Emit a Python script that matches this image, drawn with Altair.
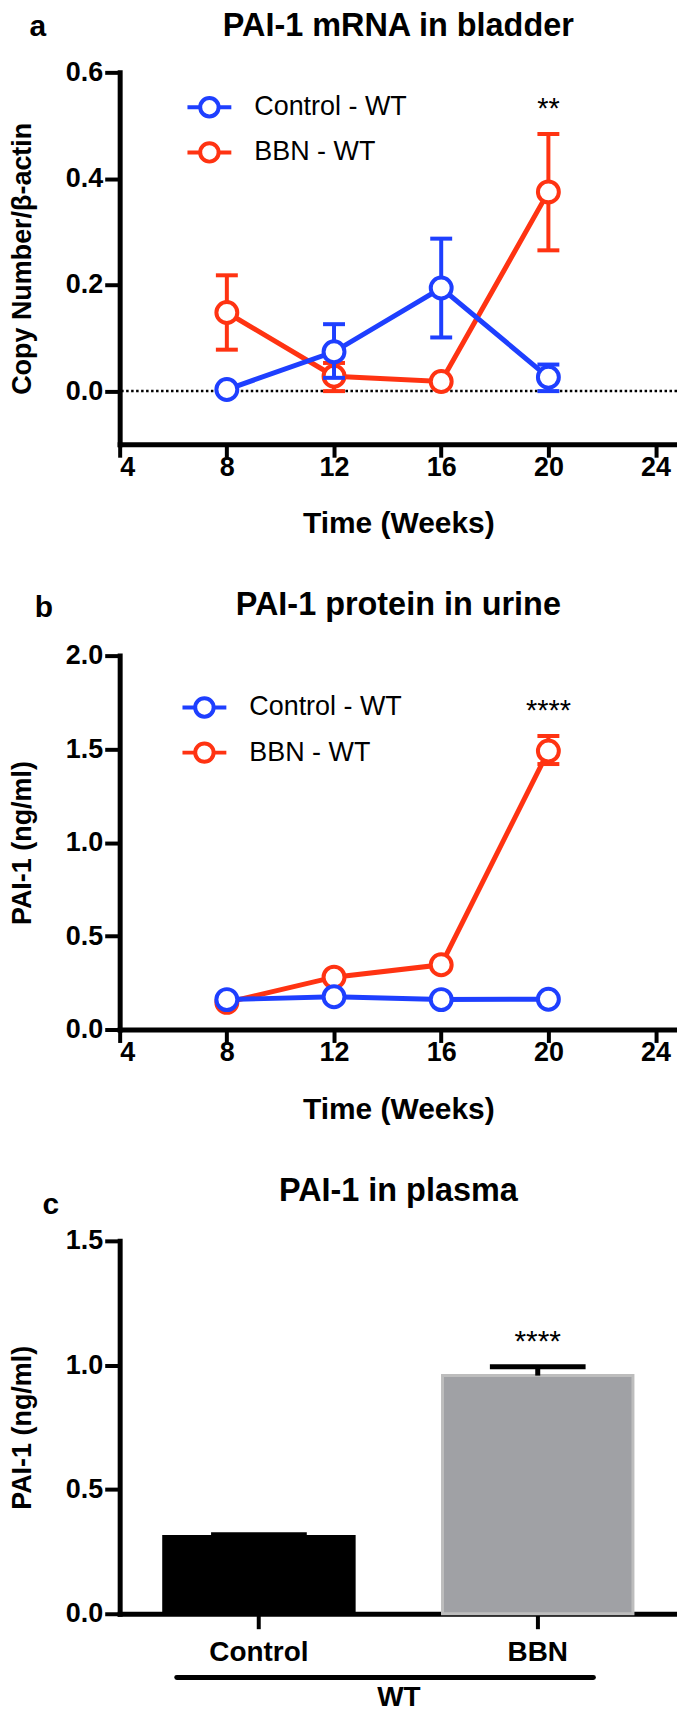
import altair as alt
import pandas as pd

F = "Liberation Sans"
BLUE = "#1E3FFF"
RED = "#FF3312"

# ---------------- data ----------------
series_names = ["Control - WT", "BBN - WT"]
weeks = [8, 12, 16, 20]
x_ticks = [4, 8, 12, 16, 20, 24]
panel_letters = ["a", "b", "c"]
panel_titles = ["PAI-1 mRNA in bladder", "PAI-1 protein in urine", "PAI-1 in plasma"]

# panel a: PAI-1 mRNA in bladder
a_ctrl_mean = [0.003, 0.074, 0.194, 0.026]
a_ctrl_lo = [0.003, 0.025, 0.101, 0.000]
a_ctrl_hi = [0.003, 0.126, 0.287, 0.050]
a_bbn_mean = [0.148, 0.028, 0.018, 0.375]
a_bbn_lo = [0.078, 0.000, 0.018, 0.265]
a_bbn_hi = [0.218, 0.053, 0.018, 0.484]
a_y_ticks = [0.0, 0.2, 0.4, 0.6]
a_sig_text = ["**"]
a_sig_week = [20]
a_sig_y = [0.544]

# panel b: PAI-1 protein in urine
b_ctrl_mean = [0.160, 0.175, 0.160, 0.162]
b_ctrl_lo = [0.160, 0.175, 0.160, 0.162]
b_ctrl_hi = [0.160, 0.175, 0.160, 0.162]
b_bbn_mean = [0.145, 0.280, 0.346, 1.490]
b_bbn_lo = [0.145, 0.280, 0.346, 1.420]
b_bbn_hi = [0.145, 0.280, 0.346, 1.570]
b_y_ticks = [0.0, 0.5, 1.0, 1.5, 2.0]
b_sig_text = ["****"]
b_sig_week = [20]
b_sig_y = [1.74]

# panel c: PAI-1 in plasma
c_groups = ["Control", "BBN"]
c_mean = [0.311, 0.958]
c_hi = [0.318, 0.994]
c_y_ticks = [0.0, 0.5, 1.0, 1.5]
c_sig_text = ["****"]
c_sig_group = ["BBN"]
c_sig_y = [1.12]
c_bracket_label = "WT"
c_bracket_y = [-0.256]
c_bracket_from = [0.205]   # in category-step units (Control centre = 0.5)
c_bracket_to = [1.70]      # (BBN centre = 1.5)

W = 559
X_MAX = 24.8
HA, HB, HC = 373, 375, 374

LEG_PATH = ("M-1,0L-0.42,0M0.42,0L1,0"
            "M0.42,0A0.42,0.42,0,1,1,-0.42,0A0.42,0.42,0,1,1,0.42,0")

YT_PAD = 29


def xenc(field="week"):
    return alt.X(
        f"{field}:Q",
        scale=alt.Scale(domain=[4, X_MAX], nice=False, zero=False),
        axis=alt.Axis(values=x_ticks, format="d", title="Time (Weeks)",
                      labelFontSize=27, titleFontSize=30, tickSize=13,
                      labelPadding=-3, titlePadding=29),
    )


def yenc(field, domain, ticks, title):
    return alt.Y(
        f"{field}:Q",
        scale=alt.Scale(domain=domain, nice=False, zero=False),
        axis=alt.Axis(values=ticks, format=".1f", title=title,
                      labelFontSize=27, titleFontSize=27, tickSize=15,
                      labelPadding=2, titlePadding=YT_PAD),
    )


def heading_layers(title, ty, letter, lpos):
    t = alt.Chart(pd.DataFrame({"t": [title]})).mark_text(
        font=F, fontSize=32.5, fontWeight="bold", color="black",
        align="center", baseline="top").encode(
        x=alt.value(W / 2), y=alt.value(ty), text="t:N")
    l = alt.Chart(pd.DataFrame({"letter": [letter]})).mark_text(
        font=F, fontSize=30, fontWeight="bold", color="black").encode(
        x=alt.value(lpos[0]), y=alt.value(lpos[1]), text="letter:N")
    return [t, l]


def series_layers(df, color, ydom, yticks, ytitle, legend=None):
    base = alt.Chart(df)
    Y = lambda f: yenc(f, ydom, yticks, ytitle)
    line = base.mark_line(color=color, strokeWidth=5).encode(x=xenc(), y=Y("mean"))
    err = base.mark_rule(color=color, strokeWidth=4).encode(
        x=xenc(), y=Y("lo"), y2="hi:Q")
    caps = base.transform_fold(["lo", "hi"], as_=["k", "v"]).mark_tick(
        color=color, orient="horizontal", size=22, thickness=4, opacity=1
    ).encode(x=xenc(), y=Y("v"))
    pts = base.mark_point(shape="circle", filled=True, fill="white", stroke=color,
                          strokeWidth=4, size=440, opacity=1).encode(x=xenc(), y=Y("mean"))
    if legend is not None:
        pts = pts.encode(stroke=alt.Stroke(
            "series:N", scale=alt.Scale(domain=series_names, range=[BLUE, RED]),
            legend=legend))
    return [line, err, caps, pts]


def make_legend(lx, ly):
    return alt.Legend(
        title=None, orient="none", legendX=lx, legendY=ly, direction="vertical",
        symbolType=LEG_PATH, symbolSize=1936, symbolStrokeWidth=4,
        symbolFillColor="white", symbolOpacity=1,
        labelFont=F, labelFontSize=27, labelColor="black", labelFontWeight="normal",
        labelOffset=21, rowPadding=3.3, padding=0,
    )


def line_panel(i, ty, lpos, ctrl, bbn, ydom, yticks, ytitle, sig, leg, h, dotted):
    cdf = pd.DataFrame({"week": weeks, "mean": ctrl[0], "lo": ctrl[1], "hi": ctrl[2],
                        "series": series_names[0]})
    bdf = pd.DataFrame({"week": weeks, "mean": bbn[0], "lo": bbn[1], "hi": bbn[2],
                        "series": series_names[1]})
    Y = lambda f: yenc(f, ydom, yticks, ytitle)
    layers = []
    if dotted:
        layers.append(alt.Chart(pd.DataFrame({"z": [0.0]})).mark_rule(
            color="black", strokeWidth=2.5, strokeDash=[2.5, 2.5]).encode(y=Y("z")))
    layers += series_layers(bdf, RED, ydom, yticks, ytitle)
    layers += series_layers(cdf, BLUE, ydom, yticks, ytitle, legend=make_legend(*leg))
    sdf = pd.DataFrame({"week": sig[1], "y": sig[2], "t": sig[0]})
    layers.append(alt.Chart(sdf).mark_text(font=F, fontSize=29, color="black", dy=7).encode(
        x=xenc(), y=Y("y"), text="t:N"))
    layers += heading_layers(panel_titles[i], ty, panel_letters[i], lpos)
    return alt.layer(*layers).properties(width=W, height=h)


panel_a = line_panel(
    0, -62, (-82, -45),
    (a_ctrl_mean, a_ctrl_lo, a_ctrl_hi), (a_bbn_mean, a_bbn_lo, a_bbn_hi),
    [-0.1, 0.6], a_y_ticks, "Copy Number/β-actin",
    (a_sig_text, a_sig_week, a_sig_y), (66, 11), HA, True)

panel_b = line_panel(
    1, -67, (-76, -48),
    (b_ctrl_mean, b_ctrl_lo, b_ctrl_hi), (b_bbn_mean, b_bbn_lo, b_bbn_hi),
    [0, 2.0], b_y_ticks, "PAI-1 (ng/ml)",
    (b_sig_text, b_sig_week, b_sig_y), (61, 28), HB, False)

# ---------------- panel c ----------------
cdf = pd.DataFrame({"group": c_groups, "mean": c_mean, "hi": c_hi})


def xc(field="group", **kw):
    return alt.X(
        f"{field}:N", sort=c_groups,
        scale=alt.Scale(domain=c_groups, paddingInner=0.317, paddingOuter=0.158),
        axis=alt.Axis(title=c_bracket_label, labelAngle=0, labelFontSize=28,
                      titleFontSize=28, tickSize=15, labelPadding=10, titlePadding=17),
        **kw)


def yc(field):
    return alt.Y(
        f"{field}:Q", scale=alt.Scale(domain=[0, 1.5], nice=False, zero=False),
        axis=alt.Axis(values=c_y_ticks, format=".1f", title="PAI-1 (ng/ml)",
                      labelFontSize=27, titleFontSize=27, tickSize=15,
                      labelPadding=2, titlePadding=YT_PAD))


bars = alt.Chart(cdf).mark_bar(strokeWidth=3).encode(
    x=xc(), y=yc("mean"),
    color=alt.Color("group:N", scale=alt.Scale(domain=c_groups, range=["#000000", "#A0A1A5"]),
                    legend=None),
    stroke=alt.Stroke("group:N", scale=alt.Scale(domain=c_groups, range=["#000000", "#BDBDBD"]),
                      legend=None),
)
c_err = alt.Chart(cdf).mark_rule(color="black", strokeWidth=5).encode(
    x=xc(), y=yc("mean"), y2="hi:Q")
c_cap = alt.Chart(cdf).mark_tick(color="black", orient="horizontal", size=96,
                                 thickness=5, opacity=1).encode(x=xc(), y=yc("hi"))
c_sig = alt.Chart(pd.DataFrame({"group": c_sig_group, "y": c_sig_y, "t": c_sig_text})).mark_text(
    font=F, fontSize=30, color="black", dy=7).encode(x=xc(), y=yc("y"), text="t:N")
c_main = alt.layer(bars, c_err, c_cap, c_sig, *heading_layers(panel_titles[2], -66,
                                                               panel_letters[2], (-69, -36)))

bdf = pd.DataFrame({"x0": c_bracket_from, "x1": c_bracket_to, "yv": c_bracket_y})
bracket = alt.Chart(bdf).mark_rule(color="black", strokeWidth=5, strokeCap="round").encode(
    x=alt.X("x0:Q", scale=alt.Scale(domain=[0, len(c_groups)], nice=False, zero=False), axis=None),
    x2="x1:Q", y=yc("yv"))

panel_c = alt.layer(c_main, bracket).resolve_scale(x="independent").properties(
    width=W, height=HC)

chart = alt.vconcat(panel_a, panel_b, panel_c, spacing=212, bounds="flush").resolve_scale(
    stroke="independent", color="independent"
).properties(
    padding={"left": 0, "top": 0, "right": -2, "bottom": 0}
).configure_view(stroke=None).configure_axis(
    domainColor="black", domainWidth=5, domainCap="square", tickColor="black", tickWidth=4,
    labelFont=F, labelFontWeight="bold", labelColor="black",
    titleFont=F, titleFontWeight="bold", titleColor="black", grid=False,
).configure_text(font=F)

chart.save("out.html", embed_options={"renderer": "svg", "actions": False})
